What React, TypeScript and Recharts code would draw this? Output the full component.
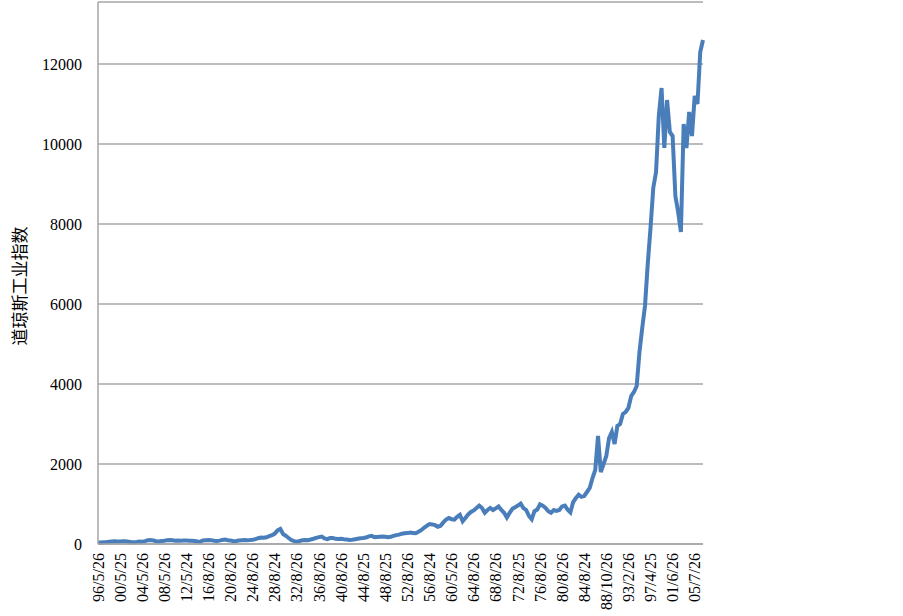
import React from 'react';
import { LineChart, Line, XAxis, YAxis, CartesianGrid } from 'recharts';

// tick labels on the category axis, one every 8 points
const dateLabels = [
  '96/5/26', '00/5/25', '04/5/26', '08/5/26', '12/5/24', '16/8/26', '20/8/26',
  '24/8/26', '28/8/24', '32/8/26', '36/8/26', '40/8/26', '44/8/25', '48/8/25',
  '52/8/26', '56/8/24', '60/5/26', '64/8/26', '68/8/26', '72/8/25', '76/8/26',
  '80/8/26', '84/8/24', '88/10/26', '93/2/26', '97/4/25', '01/6/26', '05/7/26',
];

const yTicks = [0, 2000, 4000, 6000, 8000, 10000, 12000];

// 1896 - 1928
const djiaEarly = [
  40, 38, 42, 47, 55, 62, 66, 64,
  62, 70, 66, 58, 48, 45, 52, 62,
  58, 72, 92, 100, 90, 68, 62, 78,
  82, 92, 98, 94, 82, 86, 80, 88,
  90, 84, 80, 76, 62, 58, 88, 96,
  102, 96, 82, 78, 84, 102, 112, 96,
  86, 70, 76, 86, 96, 102, 92, 98,
  106, 122, 145, 160, 156, 168, 195, 220,
];

// 1928 - 1972
const djiaMid = [
  260, 340, 375, 250, 205, 150, 100, 70,
  50, 75, 95, 100, 96, 112, 132, 155,
  172, 185, 140, 120, 148, 150, 130, 128,
  132, 120, 110, 98, 106, 118, 132, 142,
  148, 162, 192, 205, 172, 176, 182, 186,
  180, 172, 182, 205, 222, 235, 258, 268,
  272, 285, 276, 268, 305, 345, 405, 455,
  500, 490, 470, 430, 455, 540, 610, 650,
  620, 610, 680, 730, 570, 650, 740, 800,
  840, 900, 960, 900, 780, 850, 900, 850,
  890, 940, 850, 780, 660, 780, 880, 920,
];

// 1972 - 2007
const djiaLate = [
  960, 1010, 900, 850, 700, 620, 820, 860,
  990, 960, 900, 820, 780, 850, 830, 850,
  940, 960, 860, 790, 1050, 1150, 1230, 1180,
  1200, 1300, 1400, 1650, 1850, 2700, 1800, 2000,
  2200, 2650, 2800, 2500, 2950, 3000, 3250, 3300,
  3400, 3700, 3800, 3950, 4800, 5400, 5950, 7000,
  7900, 8900, 9300, 10700, 11400, 9900, 11100, 10300,
  10200, 8700, 8300, 7800, 10500, 9900, 10800, 10200,
  11200, 11000, 12300, 12600,
];

const djia = [...djiaEarly, ...djiaMid, ...djiaLate];
const data = djia.map((v, i) => ({ i, v }));
const xTicks = dateLabels.map((_, k) => k * 8);

const serif = 'Liberation Serif, DejaVu Serif, serif';

const XTick = (props: any) => {
  const { x, y, payload } = props;
  return (
    <text
      x={x}
      y={y}
      transform={`rotate(-90 ${x} ${y})`}
      textAnchor="end"
      dy="0.35em"
      style={{ fontFamily: serif, fontSize: 16, fill: '#000' }}
    >
      {dateLabels[Math.round(payload.value / 8)]}
    </text>
  );
};

const YTick = (props: any) => {
  const { x, y, payload } = props;
  return (
    <text x={x} y={y} textAnchor="end" dy="0.35em" style={{ fontFamily: serif, fontSize: 16, fill: '#000' }}>
      {payload.value}
    </text>
  );
};

export default function App() {
  return (
    <div style={{ position: 'absolute', left: 0, top: 0, background: '#fff', fontFamily: serif }}>
      <LineChart width={903} height={616} data={data} margin={{ top: 2, right: 200, bottom: 0, left: 0 }}>
        <CartesianGrid vertical={false} stroke="#a6a6a6" strokeWidth={1.5} />
        <XAxis
          dataKey="i"
          type="number"
          domain={[0, 219]}
          ticks={xTicks}
          interval={0}
          height={72}
          tickLine={false}
          tickSize={0}
          tickMargin={9}
          axisLine={{ stroke: '#a6a6a6', strokeWidth: 1.5 }}
          tick={<XTick />}
        />
        <YAxis
          type="number"
          domain={[0, 13550]}
          ticks={yTicks}
          width={98}
          tickLine={false}
          tickSize={0}
          tickMargin={16}
          axisLine={{ stroke: '#a6a6a6', strokeWidth: 1.5 }}
          tick={<YTick />}
          label={{
            content: () => (
              <text
                x={18}
                y={286}
                transform="rotate(-90 18 286)"
                textAnchor="middle"
                dominantBaseline="central"
                style={{ fontFamily: 'Noto Sans CJK SC, sans-serif', fontSize: 17, fill: '#000' }}
              >
                道琼斯工业指数
              </text>
            ),
          }}
        />
        <Line
          type="linear"
          dataKey="v"
          stroke="#4a7ebb"
          strokeWidth={4}
          dot={false}
          isAnimationActive={false}
        />
      </LineChart>
    </div>
  );
}
